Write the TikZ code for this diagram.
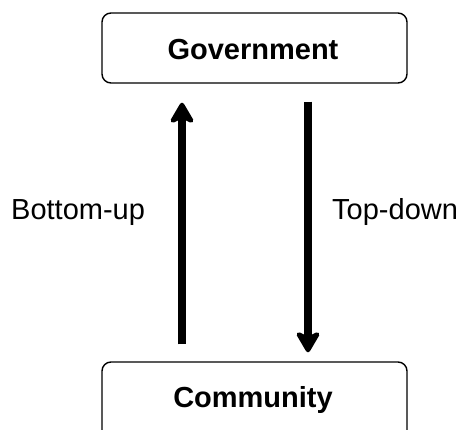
\documentclass[tikz,border=0pt]{standalone}
\usepackage{fontspec}
\setmainfont{Liberation Sans}
\usetikzlibrary{arrows.meta}
\begin{document}
\begin{tikzpicture}[x=1pt,y=-1pt,
  box/.style={draw=black,line width=1.4pt,rounded corners=9pt,inner sep=0pt},
  boxtext/.style={font=\fontsize{29}{34}\selectfont\bfseries,inner sep=0pt,anchor=base},
  lbl/.style={font=\fontsize{29}{34}\selectfont,inner sep=0pt,anchor=base west},
  bigarrow/.style={line width=8pt,-{Stealth[length=25pt,width=29pt,inset=7pt,round]}}]
\useasboundingbox (0,0) rectangle (459,430);
\clip (0,0) rectangle (459,430);
\node[box,minimum width=305pt,minimum height=70pt] (gov) at (254.5,48) {};
\node[box,minimum width=305pt,minimum height=90pt] (com) at (254.5,407) {};
\node[boxtext] (govt) at (253,60) {Government};
\node[boxtext] (comt) at (253,408) {Community};
\draw[bigarrow,shorten <=17pt,shorten >=19pt] ([xshift=-72.5pt]com.north) -- ([xshift=-72.5pt]gov.south);
\draw[bigarrow,shorten <=18pt,shorten >=9pt] ([xshift=53.5pt]gov.south) -- ([xshift=53.5pt]com.north);
\node[lbl] (bu) at (11,220) {Bottom-up};
\node[lbl] (td) at (332,220) {Top-down};
\end{tikzpicture}
\end{document}
